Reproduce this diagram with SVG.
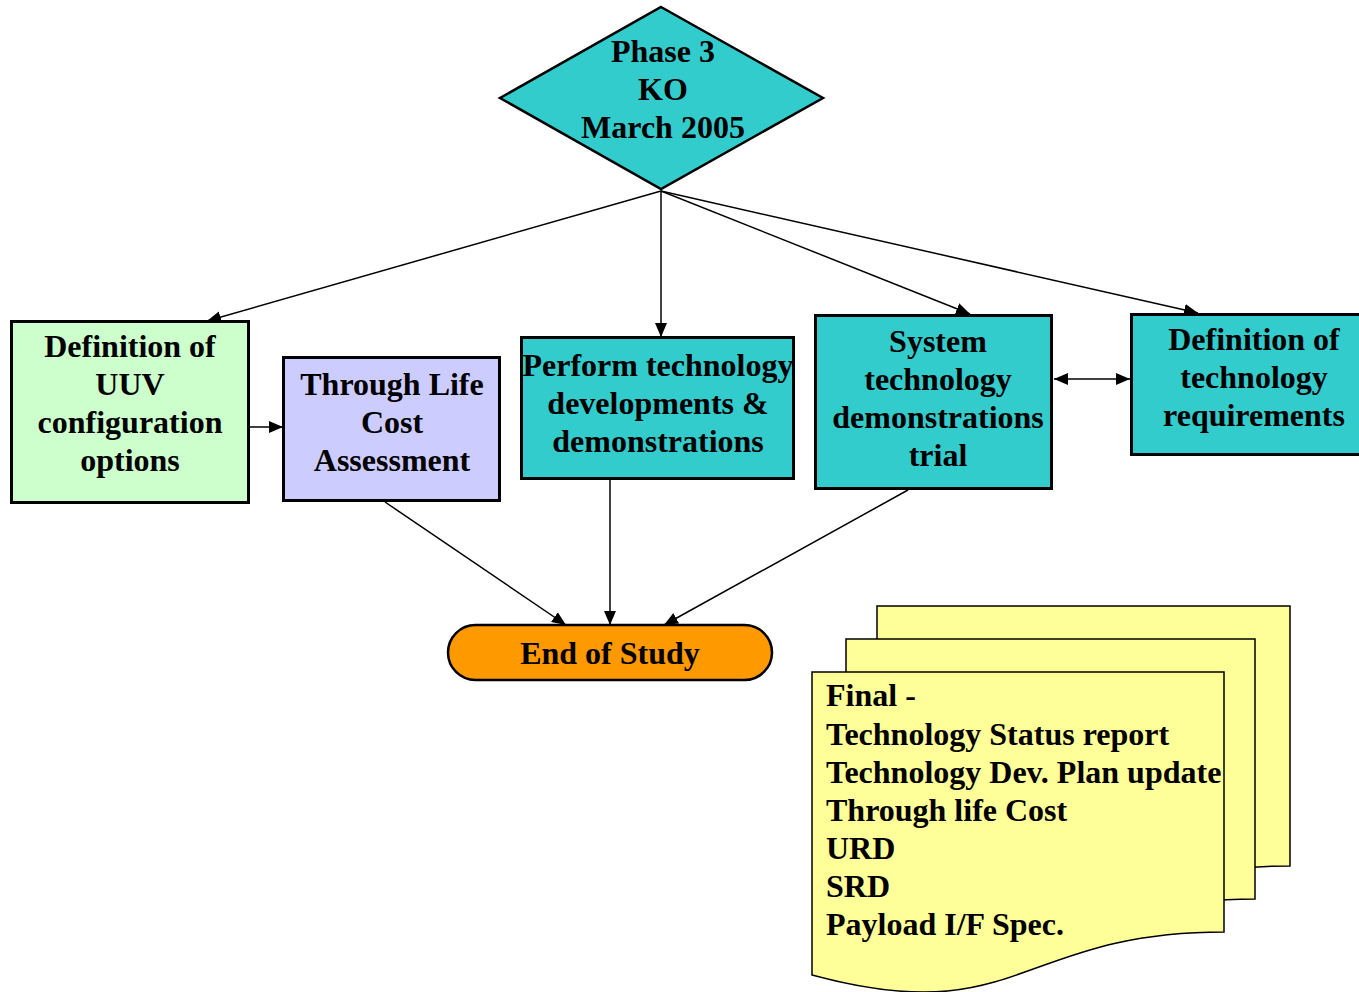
<svg xmlns="http://www.w3.org/2000/svg" width="1359" height="992" viewBox="0 0 1359 992">
  <style>
    .lbl { font-family: "Liberation Serif", "Times New Roman", serif; font-weight: bold; font-size: 32px; fill: #000; }
    .mid { text-anchor: middle; }
    .box { stroke: #000; stroke-width: 3; }
    .teal { fill: #33CCCC; }
    .conn { stroke: #000; stroke-width: 1.5; fill: none; }
    .doc { fill: #FFFF99; stroke: #000; stroke-width: 1.5; }
  </style>
  <defs>
    <marker id="arrow" markerUnits="userSpaceOnUse" markerWidth="14" markerHeight="14" viewBox="0 0 14 14" refX="14" refY="7" orient="auto-start-reverse">
      <path d="M0,1 L14,7 L0,13 Z" fill="#000"/>
    </marker>
  </defs>

  <rect width="1359" height="992" fill="#fff"/>

  <!-- connectors -->
  <g id="connectors">
    <line class="conn" x1="661" y1="191" x2="207" y2="321" marker-end="url(#arrow)"/>
    <line class="conn" x1="661" y1="191" x2="661" y2="337" marker-end="url(#arrow)"/>
    <line class="conn" x1="661" y1="191" x2="970" y2="314" marker-end="url(#arrow)"/>
    <line class="conn" x1="661" y1="191" x2="1198" y2="313" marker-end="url(#arrow)"/>
    <line class="conn" x1="250" y1="427" x2="283" y2="427" marker-end="url(#arrow)"/>
    <line class="conn" x1="1054" y1="379" x2="1130" y2="379" marker-start="url(#arrow)" marker-end="url(#arrow)"/>
    <line class="conn" x1="385" y1="502" x2="566" y2="625" marker-end="url(#arrow)"/>
    <line class="conn" x1="610" y1="480" x2="610" y2="625" marker-end="url(#arrow)"/>
    <line class="conn" x1="908" y1="490" x2="664" y2="625" marker-end="url(#arrow)"/>
  </g>

  <!-- kick-off decision -->
  <g id="phase3-ko">
    <polygon points="661,7 823,98 661,189 500,98" class="teal" stroke="#000" stroke-width="2.5"/>
    <text class="lbl mid" x="663" y="62">Phase 3</text>
    <text class="lbl mid" x="663" y="100">KO</text>
    <text class="lbl mid" x="663" y="138">March 2005</text>
  </g>

  <g id="uuv-config">
    <rect class="box" x="11.5" y="321.5" width="237" height="181" fill="#CCFFCC"/>
    <text class="lbl mid" x="130" y="357">Definition of</text>
    <text class="lbl mid" x="130" y="395">UUV</text>
    <text class="lbl mid" x="130" y="433">configuration</text>
    <text class="lbl mid" x="130" y="471">options</text>
  </g>

  <g id="through-life-cost">
    <rect class="box" x="283.5" y="357.5" width="216" height="143" fill="#CCCCFF"/>
    <text class="lbl mid" x="392" y="395">Through Life</text>
    <text class="lbl mid" x="392" y="433">Cost</text>
    <text class="lbl mid" x="392" y="471">Assessment</text>
  </g>

  <g id="tech-developments">
    <rect class="box teal" x="521.5" y="337.5" width="272" height="141"/>
    <text class="lbl mid" x="658" y="376">Perform technology</text>
    <text class="lbl mid" x="658" y="414">developments &amp;</text>
    <text class="lbl mid" x="658" y="452">demonstrations</text>
  </g>

  <g id="system-demo-trial">
    <rect class="box teal" x="815.5" y="315.5" width="236" height="173"/>
    <text class="lbl mid" x="938" y="352">System</text>
    <text class="lbl mid" x="938" y="390">technology</text>
    <text class="lbl mid" x="938" y="428">demonstrations</text>
    <text class="lbl mid" x="938" y="466">trial</text>
  </g>

  <g id="tech-requirements">
    <rect class="box teal" x="1131.5" y="314.5" width="250" height="140"/>
    <text class="lbl mid" x="1254" y="350">Definition of</text>
    <text class="lbl mid" x="1254" y="388">technology</text>
    <text class="lbl mid" x="1254" y="426">requirements</text>
  </g>

  <g id="end-of-study">
    <rect x="448" y="625" width="324" height="55" rx="27.5" ry="27.5" fill="#FF9900" stroke="#000" stroke-width="2.5"/>
    <text class="lbl mid" x="610" y="664">End of Study</text>
  </g>

  <!-- stacked final deliverables -->
  <g id="deliverables">
    <path class="doc" d="M877,606 H1290 V866 C1083.5,866 1083.5,965 877,909 Z"/>
    <path class="doc" d="M846,639 H1255 V899 C1050.5,899 1050.5,998 846,942 Z"/>
    <path class="doc" d="M812,672 H1224 V932 C1018,932 1018,1031 812,975 Z"/>
    <text class="lbl" x="826" y="706">Final -</text>
    <text class="lbl" x="826" y="745">Technology Status report</text>
    <text class="lbl" x="826" y="783">Technology Dev. Plan update</text>
    <text class="lbl" x="826" y="821">Through life Cost</text>
    <text class="lbl" x="826" y="859">URD</text>
    <text class="lbl" x="826" y="897">SRD</text>
    <text class="lbl" x="826" y="935">Payload I/F Spec.</text>
  </g>
</svg>
